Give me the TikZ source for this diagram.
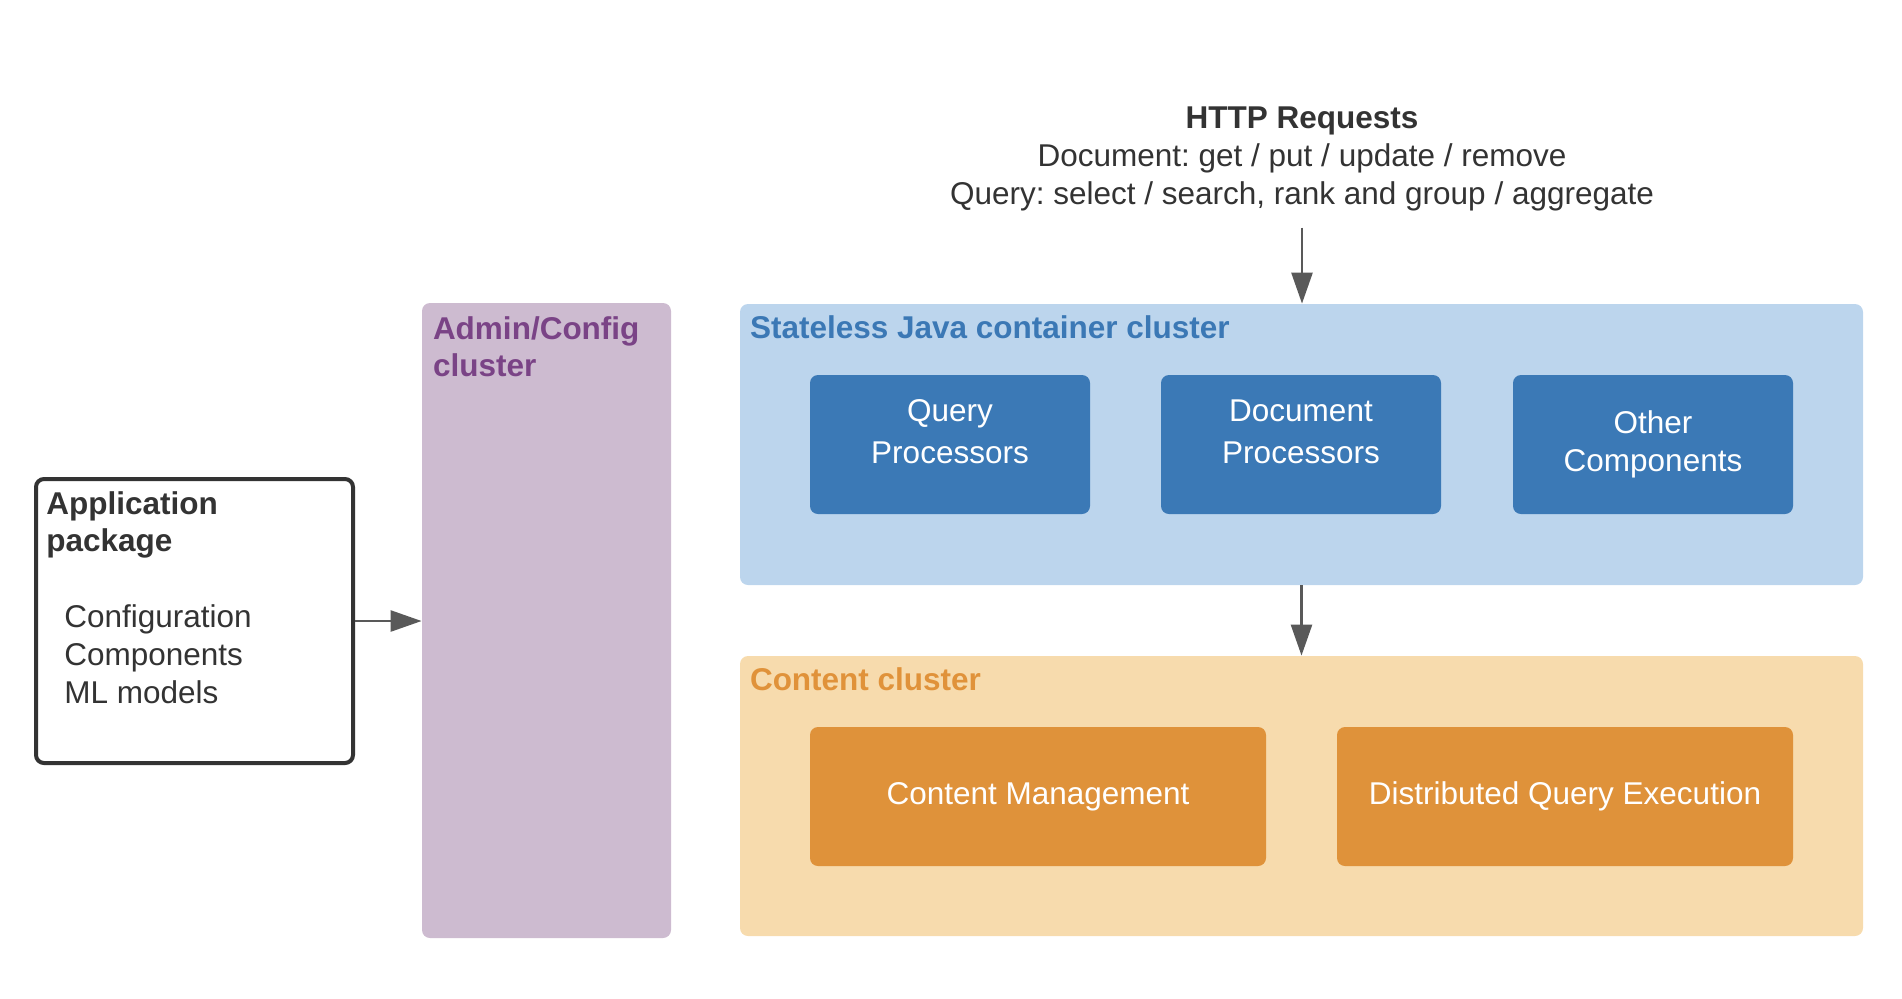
\documentclass[tikz,border=0pt]{standalone}
\usepackage{fontspec}
\setmainfont{Liberation Sans}
\usetikzlibrary{arrows.meta,positioning}
\frenchspacing

\definecolor{darktext}{HTML}{333333}
\definecolor{arrowgray}{HTML}{595959}
\definecolor{adminfill}{HTML}{CDBBD0}
\definecolor{admintext}{HTML}{7A4386}
\definecolor{javafill}{HTML}{BCD5ED}
\definecolor{javatext}{HTML}{3B78B5}
\definecolor{procblue}{HTML}{3B79B6}
\definecolor{contentfill}{HTML}{F7DBAD}
\definecolor{contenttext}{HTML}{E0923A}
\definecolor{contentbox}{HTML}{DF923A}

\begin{document}
\begin{tikzpicture}[x=0.5pt, y=-0.5pt, font=\fontsize{15.75}{19}\selectfont, text=darktext,
  cluster/.style={rounded corners=4pt, inner sep=0pt},
  cluster title/.style={font=\fontsize{15.75}{18.5}\selectfont\bfseries, align=left, anchor=base west, inner sep=0pt},
  proc box/.style={rounded corners=4pt, inner sep=0pt, minimum width=140pt, minimum height=69.5pt, fill=procblue, text=white, align=center},
  content box/.style={rounded corners=4pt, inner sep=0pt, minimum width=228pt, minimum height=69.5pt, fill=contentbox, text=white, align=center},
  flow/.style={draw=arrowgray, line width=1.3pt, -{Triangle[length=15.5pt,width=10.5pt]}}]
  \useasboundingbox (0,0) rectangle (1902,998);

  % left side
  \node[cluster, draw=darktext, line width=2pt, minimum width=158.5pt, minimum height=142pt] (app) at (194.5,621) {};
  \node[cluster title] (apptitle) at ([shift={(6pt,-37pt)}]app.north west) {Application\\package};
  \node[align=left, anchor=base west, inner sep=0pt] (appitems) at (64,703) {Configuration\\Components\\ML models};

  \node[cluster, fill=adminfill, minimum width=124.5pt, minimum height=317.5pt] (admin) at (546.5,620.5) {};
  \node[cluster title, text=admintext] (admintitle) at ([shift={(5.5pt,-37pt)}]admin.north west) {Admin/Config\\cluster};

  % container cluster
  \node[cluster, fill=javafill, minimum width=561.5pt, minimum height=140.5pt] (java) at (1301.5,444.5) {};
  \node[cluster title, text=javatext] (javatitle) at ([shift={(5pt,-17.5pt)}]java.north west) {Stateless Java container cluster};
  \node[proc box, text depth=13pt] (qp) at (950,444.5) {Query\\[2pt]Processors};
  \node[proc box, text depth=13pt] (dp) at (1301,444.5) {Document\\[2pt]Processors};
  \node[proc box] (oc) at (1653,444.5) {Other\\Components};

  % content cluster
  \node[cluster, fill=contentfill, minimum width=561.5pt, minimum height=140pt] (content) at (1301.5,796) {};
  \node[cluster title, text=contenttext] (contenttitle) at ([shift={(5pt,-17.5pt)}]content.north west) {Content cluster};
  \node[content box] (cm) at (1038,796.5) {Content Management};
  \node[content box] (dqe) at (1565,796.5) {Distributed Query Execution};

  % requests
  \node[align=center, anchor=north, inner sep=0pt] (http) at (1302,106.5) {\textbf{HTTP Requests}\\Document: get / put / update / remove\\Query: select / search, rank and group / aggregate};

  \draw[flow] ([yshift=-8pt]http.south) -- (http.south |- java.north);
  \draw[flow] (java) -- (content);
  \draw[flow] (app.east) -- (app.east -| admin.west);
\end{tikzpicture}
\end{document}
